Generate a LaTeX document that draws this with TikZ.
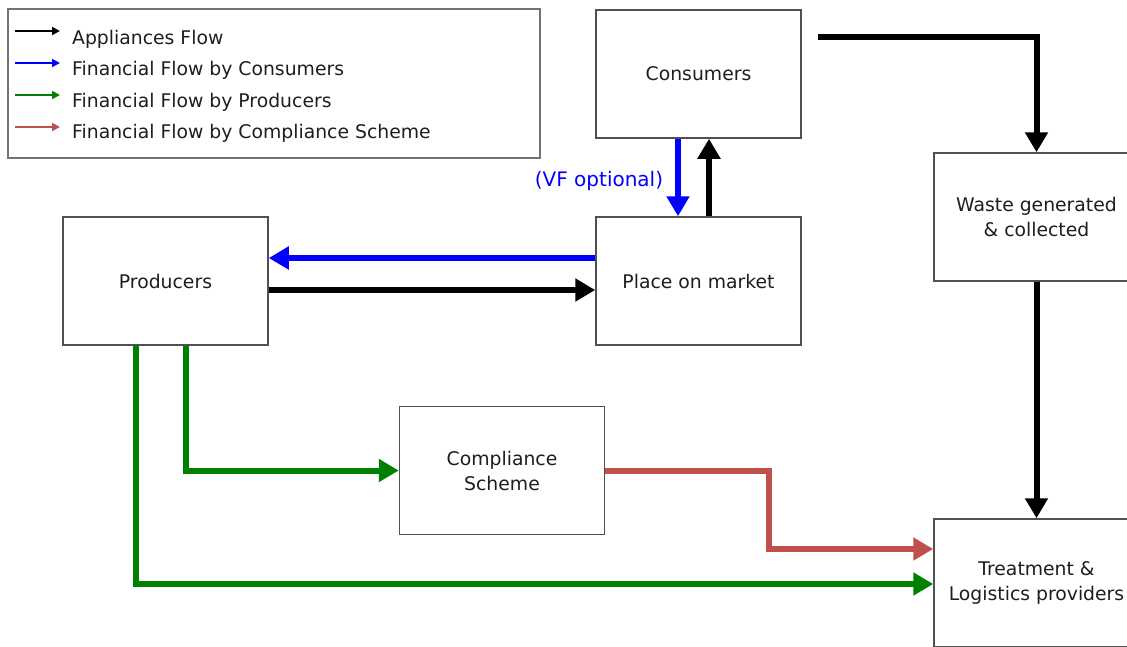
\documentclass[tikz,border=0pt]{standalone}
\usepackage{fontspec}
\setmainfont{DejaVu Sans}
\usetikzlibrary{arrows.meta,calc}
\definecolor{flowblue}{RGB}{0,0,255}
\definecolor{flowgreen}{RGB}{0,128,0}
\definecolor{flowred}{RGB}{192,80,77}
\definecolor{boxgray}{RGB}{80,80,80}
\definecolor{txt}{RGB}{30,30,30}
\begin{document}
\begin{tikzpicture}[x=1pt,y=-1pt,
  box/.style={draw=boxgray, line width=1.5pt, fill=white, minimum width=205pt, minimum height=128pt,
    inner sep=0pt, align=center, font=\fontsize{18.8}{25}\selectfont, text=txt},
  flow/.style={line width=6pt, -{Triangle[length=20pt,width=22pt]}},
  legline/.style={line width=1.8pt, -{Triangle[length=8pt,width=8pt]}},
  legtext/.style={anchor=base west, inner sep=0pt, font=\fontsize{18.8}{25}\selectfont, text=txt},
]
\useasboundingbox (0,0) rectangle (1127,646);

% legend
\node[draw=boxgray!80, line width=2pt, minimum width=532pt, minimum height=149pt, inner sep=0pt] (legend) at (274,83.5) {};
\node[legtext] (l1) at (72,44) {Appliances Flow};
\node[legtext] (l2) at (72,75) {Financial Flow by Consumers};
\node[legtext] (l3) at (72,107) {Financial Flow by Producers};
\node[legtext] (l4) at (72,138) {Financial Flow by Compliance Scheme};
\draw[legline, black] ($(l1.base west)+(-57,-13)$) -- ($(l1.base west)+(-12,-13)$);
\draw[legline, flowblue] ($(l2.base west)+(-57,-12)$) -- ($(l2.base west)+(-12,-12)$);
\draw[legline, flowgreen] ($(l3.base west)+(-57,-12)$) -- ($(l3.base west)+(-12,-12)$);
\draw[legline, flowred] ($(l4.base west)+(-57,-11)$) -- ($(l4.base west)+(-12,-11)$);

% boxes
\node[box] (cons) at (698.5,74) {Consumers};
\node[box] (place) at (698.5,281) {Place on market};
\node[box] (prod) at (165.5,281) {Producers};
\node[box] (waste) at (1036.5,217) {Waste generated\\\& collected};
\node[box] (comp) at (502,470.5) {Compliance\\Scheme};
\node[box] (treat) at (1036.5,583) {Treatment \&\\Logistics providers};

% label
\node[text=flowblue, font=\fontsize{20}{24}\selectfont, inner sep=0pt] (vf) at (599,181) {(VF optional)};

% flows
\draw[flow, black] ($(cons.north east)+(16,28)$) -| (waste.north);
\draw[flow, flowblue] (cons.south -| 678,0) -- (place.north -| 678,0);
\draw[flow, black] (place.north -| 709,0) -- (cons.south -| 709,0);
\draw[flow, flowblue] (place.west |- 0,258) -- (prod.east |- 0,258);
\draw[flow, black] (prod.east |- 0,290) -- (place.west |- 0,290);
\draw[flow, black] (waste.south) -- (treat.north);
\draw[flow, flowgreen] (prod.south -| 186,0) |- (comp.west);
\draw[flow, flowgreen] (prod.south -| 136,0) |- (treat.west |- 0,584);
\draw[flow, flowred] (comp.east) -- (comp.east -| 769,0) |- (treat.west |- 0,549);
\end{tikzpicture}
\end{document}
